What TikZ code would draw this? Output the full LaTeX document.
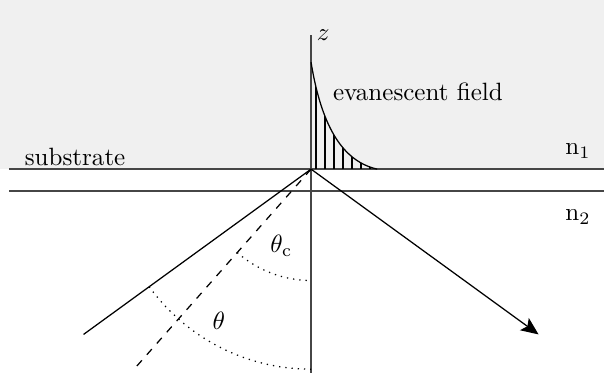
\documentclass[tikz,border=0pt]{standalone}
\usepackage{amsmath}
\usepackage{xcolor}
\usepackage{tikz}
\usetikzlibrary{positioning, arrows.meta}
\definecolor{mediumgray}{RGB}{240,240,240}
\definecolor{axisgray}{RGB}{70,70,70}

\begin{document}
\begin{tikzpicture}[x=0.53cm, y=0.53cm,
    axis/.style={draw=axisgray, line width=0.7pt},
    ray/.style={draw=black, line width=0.5pt},
    hatch/.style={draw=black, line width=0.8pt},
    angarc/.style={draw=black, dotted, line width=0.5pt},
    txt/.style={inner sep=1pt}
  ]
    \useasboundingbox (-8.24,-5.54) rectangle (7.76,4.48);
    \fill[mediumgray] (-8.24,0) rectangle (7.76,4.48);

    % interface and axis
    \coordinate (O) at (0,0);
    \coordinate (s1) at (-8.0,0);
    \coordinate (s1e) at (7.76,0);
    \coordinate (s2) at (-8.0,-0.58);
    \coordinate (s2e) at (7.76,-0.58);
    \coordinate (zb) at (0,-5.4);
    \coordinate (zt) at (0,3.55);
    \draw[axis] (s1) -- (s1e);
    \draw[axis] (s2) -- (s2e);
    \draw[axis] (zb) -- (zt) node[right, inner sep=2pt] (z) {$z$};

    % evanescent field
    \begin{scope}
      \clip (0,2.83) .. controls (0.3,1.0) and (0.9,0.2) .. (1.75,0) -- (0,0) -- cycle;
      \foreach \x in {0.12,0.36,...,1.6}
        \draw[hatch] (\x,0) -- (\x,3);
    \end{scope}
    \draw[axis] (0,0) -- (0,2.83);
    \draw[ray] (0,2.83) .. controls (0.3,1.0) and (0.9,0.2) .. (1.75,0);

    % rays
    \coordinate (inc) at (216:7.45);
    \coordinate (refl) at (-36:7.45);
    \coordinate (crit) at (228.5:7.1);
    \draw[ray] (inc) -- (O);
    \draw[ray, -{Stealth[length=7pt, width=6pt, inset=1.5pt]}] (O) -- (refl);
    \draw[ray, dashed] (O) -- (crit);

    % angles
    \draw[angarc] (228.5:2.95) arc (228.5:270:2.95);
    \draw[angarc] (216:5.3) arc (216:270:5.3);

    % labels
    \node[txt] (evan) at (2.83,2.04) {evanescent field};
    \node[txt] (subs) at (-6.25,0.32) {substrate};
    \node[txt] (n1) at (7.07,0.48) {$\mathrm{n}_1$};
    \node[txt] (n2) at (7.07,-1.27) {$\mathrm{n}_2$};
    \node[txt] (thc) at (-0.79,-2.04) {$\theta_\mathrm{c}$};
    \node[txt] (th) at (-2.44,-4.03) {$\theta$};
  \end{tikzpicture}
\end{document}
